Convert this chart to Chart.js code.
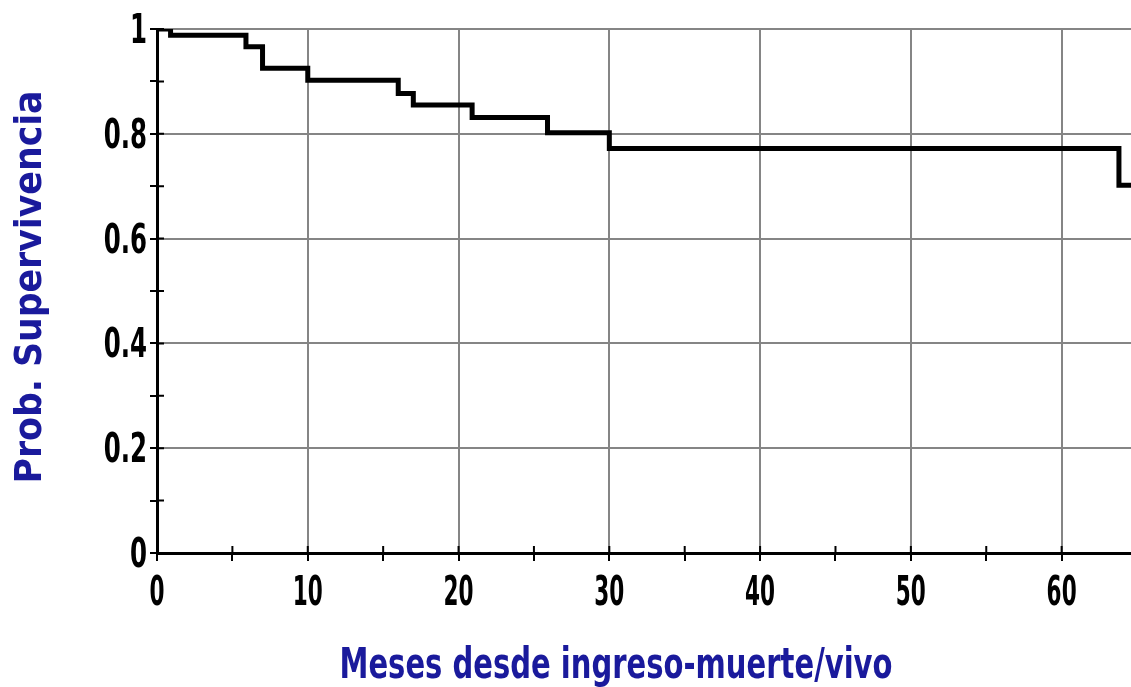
<!DOCTYPE html>
<html>
<head>
<meta charset="utf-8">
<script src="https://cdn.jsdelivr.net/npm/chart.js@4.4.1/dist/chart.umd.min.js"></script>
<style>
  html, body { margin: 0; padding: 0; background: #fff; overflow: hidden; }
  canvas { display: block; }
</style>
</head>
<body>
<canvas id="km" width="1131" height="687"></canvas>
<script>
// Kaplan-Meier steps
const months = [0, 0.9, 5.9, 7.0, 10.0, 16.0, 17.0, 20.9, 25.9, 30.0, 63.8, 64.6];
const survival = [1, 0.988, 0.966, 0.925, 0.902, 0.877, 0.855, 0.831, 0.802, 0.772, 0.702, 0.702];

const xTitle = "Meses desde ingreso-muerte/vivo";
const yTitle = "Prob. Supervivencia";

const FONT = "'Liberation Sans Narrow', 'DejaVu Sans Condensed', 'Arial Narrow', sans-serif";
const BLUE = "#1a1a9c";
const NARROW_X = 0.6; // the tick digits in the picture are very condensed
const NARROW_Y = 0.68;

// tick stubs on the inner side of the axes, condensed tick labels, axis titles
const extras = {
  id: "extras",
  afterDraw(chart) {
    const { ctx, scales } = chart;
    const x = scales.x, y = scales.y;
    const x0 = x.getPixelForValue(0);
    const y0 = y.getPixelForValue(0);
    ctx.save();
    ctx.strokeStyle = "#000";
    ctx.lineWidth = 2;
    ctx.beginPath();
    y.ticks.forEach((t) => {
      if (t.value <= 0) return;
      const py = y.getPixelForValue(t.value);
      ctx.moveTo(x0, py);
      ctx.lineTo(x0 + 7, py);
    });
    x.ticks.forEach((t) => {
      if (t.value <= 0) return;
      const px = x.getPixelForValue(t.value);
      ctx.moveTo(px, y0);
      ctx.lineTo(px, y0 - 7);
    });
    ctx.stroke();

    ctx.fillStyle = "#000";
    ctx.font = "bold 40px " + FONT;
    ctx.textBaseline = "alphabetic";
    ctx.textAlign = "center";
    x.ticks.forEach((t) => {
      if (!t.label) return;
      ctx.save();
      ctx.translate(x.getPixelForValue(t.value), 605);
      ctx.scale(NARROW_X, 1);
      ctx.fillText(t.label, 0, 0);
      ctx.restore();
    });
    ctx.textAlign = "right";
    y.ticks.forEach((t) => {
      if (!t.label) return;
      ctx.save();
      ctx.translate(147, y.getPixelForValue(t.value) + 14);
      ctx.scale(NARROW_Y, 1);
      ctx.fillText(t.label, 0, 0);
      ctx.restore();
    });

    ctx.fillStyle = BLUE;
    ctx.font = "bold 42px " + FONT;
    ctx.textAlign = "center";
    let w = ctx.measureText(xTitle).width;
    ctx.save();
    ctx.translate(616, 678);
    ctx.scale(553 / w, 1);
    ctx.fillText(xTitle, 0, 0);
    ctx.restore();

    ctx.font = "bold 38px " + FONT;
    w = ctx.measureText(yTitle).width;
    ctx.save();
    ctx.translate(41, 287);
    ctx.rotate(-Math.PI / 2);
    ctx.scale(393 / w, 1);
    ctx.fillText(yTitle, 0, 0);
    ctx.restore();
    ctx.restore();
  },
};

new Chart(document.getElementById("km"), {
  type: "line",
  data: {
    datasets: [
      {
        data: months.map((m, i) => ({ x: m, y: survival[i] })),
        stepped: "before",
        borderColor: "#000",
        borderWidth: 5,
        pointRadius: 0,
        fill: false,
      },
    ],
  },
  options: {
    responsive: false,
    animation: false,
    layout: { padding: { top: 29, right: 0, left: 0, bottom: 0 } },
    plugins: { legend: { display: false }, tooltip: { enabled: false } },
    scales: {
      x: {
        type: "linear",
        min: 0,
        max: 64.6,
        afterFit: (s) => { s.height = 134; },
        border: { color: "#000", width: 3 },
        grid: {
          color: (c) => (c.tick && c.tick.value % 10 === 0 ? "#858585" : "rgba(0,0,0,0)"),
          lineWidth: 2,
          tickColor: "#000",
          tickLength: 8,
          tickWidth: 2,
        },
        ticks: {
          stepSize: 5,
          includeBounds: false,
          maxRotation: 0,
          autoSkip: false,
          padding: 8,
          color: "rgba(0,0,0,0)",
          font: { family: FONT, size: 38, weight: "bold" },
          callback: (v) => (v % 10 === 0 ? String(v) : ""),
        },
      },
      y: {
        min: 0,
        max: 1,
        afterFit: (s) => { s.width = 157; },
        border: { color: "#000", width: 3 },
        grid: {
          color: (c) => (c.tick && Math.round(c.tick.value * 10) % 2 === 0 ? "#858585" : "rgba(0,0,0,0)"),
          lineWidth: 2,
          tickColor: "#000",
          tickLength: 7,
          tickWidth: 2,
        },
        ticks: {
          stepSize: 0.1,
          autoSkip: false,
          padding: 3,
          color: "rgba(0,0,0,0)",
          font: { family: FONT, size: 38, weight: "bold" },
          callback: (v) => (Math.round(v * 10) % 2 === 0 ? String(Math.round(v * 10) / 10) : ""),
        },
      },
    },
  },
  plugins: [extras],
});
</script>
</body>
</html>
